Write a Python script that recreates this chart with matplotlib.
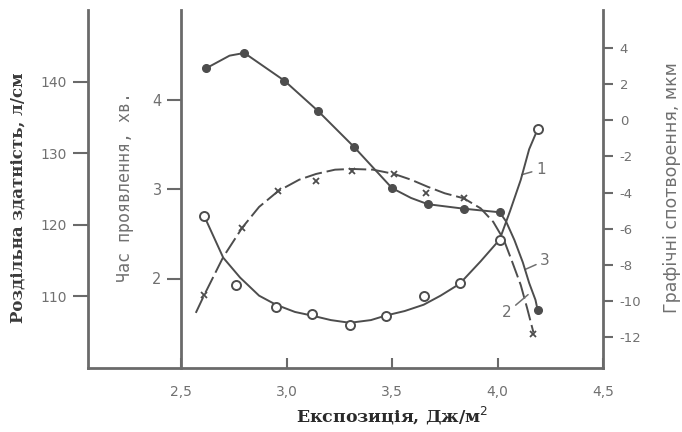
import matplotlib.pyplot as plt

# curve 3 - development time (filled circles), min
time_x = [2.62, 2.80, 2.99, 3.15, 3.32, 3.50, 3.67, 3.84, 4.01, 4.19]
time_y = [4.35, 4.52, 4.21, 3.87, 3.47, 3.01, 2.83, 2.78, 2.74, 1.65]
time_line_x = [2.62, 2.73, 2.80, 2.99, 3.15, 3.32, 3.50, 3.59, 3.67, 3.84, 4.01,
               4.04, 4.08, 4.12, 4.15, 4.18, 4.19]
time_line_y = [4.35, 4.49, 4.52, 4.21, 3.87, 3.47, 3.01, 2.90, 2.83, 2.78, 2.74,
               2.64, 2.43, 2.18, 1.95, 1.76, 1.65]

# curve 2 - resolution (x markers), lines/cm
res_x = [2.61, 2.79, 2.96, 3.14, 3.31, 3.51, 3.66, 3.84, 4.17]
res_y = [110.2, 119.6, 124.7, 126.1, 127.5, 127.1, 124.4, 123.7, 104.7]
res_line_x = [2.57, 2.61, 2.70, 2.79, 2.87, 2.96, 3.06, 3.14, 3.23, 3.31, 3.41,
              3.51, 3.59, 3.67, 3.75, 3.84, 3.92, 3.98, 4.03, 4.07, 4.11, 4.14, 4.17]
res_line_y = [107.7, 110.2, 115.5, 119.6, 122.5, 124.7, 126.3, 127.1, 127.7, 127.8,
              127.7, 127.1, 126.3, 125.3, 124.4, 123.7, 122.3, 120.4, 117.9, 114.8,
              111.6, 108.4, 105.0]

# curve 1 - graphic distortion (open circles), um
dist_x = [2.61, 2.76, 2.95, 3.12, 3.30, 3.47, 3.65, 3.82, 4.01, 4.19]
dist_y = [-5.3, -9.1, -10.3, -10.7, -11.3, -10.8, -9.7, -9.0, -6.6, -0.5]
dist_line_x = [2.61, 2.70, 2.78, 2.87, 2.95, 3.04, 3.12, 3.21, 3.30, 3.40, 3.47,
               3.56, 3.65, 3.73, 3.82, 3.92, 4.01, 4.06, 4.11, 4.15, 4.19]
dist_line_y = [-5.3, -7.6, -8.7, -9.7, -10.2, -10.6, -10.8, -11.05, -11.2, -11.05,
               -10.8, -10.55, -10.2, -9.7, -9.05, -7.8, -6.6, -5.0, -3.3, -1.6, -0.5]

x_ticks = [2.5, 3.0, 3.5, 4.0, 4.5]
x_labels = ["2,5", "3,0", "3,5", "4,0", "4,5"]
res_ticks = [110, 120, 130, 140]
time_ticks = [2, 3, 4]
dist_ticks = [4, 2, 0, -2, -4, -6, -8, -10, -12]

LINE = "#4d4d4d"
AX = "#6a6a6a"
TXT = "#707070"

fig = plt.figure(figsize=(6.82, 4.32), dpi=100)
W, H = 682, 432
ax = fig.add_axes([88 / W, (H - 368) / H, (603 - 88) / W, (368 - 10) / H])
ax.set_xlim(2.059, 4.5)
ax.set_ylim(100, 150)

ax_t = ax.twinx()
ax_t.set_ylim(1, 5)
ax_d = ax.twinx()
ax_d.set_ylim(-13.7, 6.1)

for a in (ax, ax_t, ax_d):
    a.patch.set_visible(False)
    for s in a.spines.values():
        s.set_visible(False)
        s.set_color(AX)
        s.set_linewidth(2.0)

# outer left axis + bottom
ax.spines["left"].set_visible(True)
ax.spines["bottom"].set_visible(True)
ax.set_xticks(x_ticks)
ax.set_xticklabels(x_labels)
ax.tick_params(axis="x", direction="in", length=7, width=1.5, color=AX,
               pad=12, labelsize=10, labelcolor=TXT)
ax.set_yticks(res_ticks)
ax.tick_params(axis="y", direction="out", length=11, width=1.5, color=AX,
               pad=4, labelsize=10, labelcolor=TXT)

# inner axis at x = 2.5
ax_t.spines["left"].set_visible(True)
ax_t.spines["left"].set_position(("data", 2.5))
ax_t.yaxis.set_ticks_position("left")
ax_t.set_yticks(time_ticks)
ax_t.tick_params(axis="y", direction="out", length=10, width=1.5, color=AX,
                 pad=4, labelsize=10.5, labelcolor=TXT)

# right axis
ax_d.spines["right"].set_visible(True)
ax_d.set_yticks(dist_ticks)
ax_d.set_yticklabels([str(t) for t in dist_ticks])
ax_d.tick_params(axis="y", direction="out", length=7, width=1.5, color=AX,
                 pad=5, labelsize=9.5, labelcolor=TXT)

# curves
ax_t.plot(time_line_x, time_line_y, color=LINE, lw=1.4)
ax_t.plot(time_x, time_y, "o", color=LINE, ms=5.5)

ax.plot(res_line_x, res_line_y, color=LINE, lw=1.4, linestyle=(0, (9, 2.5)))
ax.plot(res_x, res_y, "x", color=LINE, ms=5, mew=1.3)

ax_d.plot(dist_line_x, dist_line_y, color=LINE, lw=1.4)
ax_d.plot(dist_x, dist_y, "o", mfc="white", mec=LINE, ms=6.5, mew=1.4)

# curve numbers with short leaders
for num, xy, txt in [("1", (4.115, 0.54), (4.205, 0.555)),
                     ("3", (4.13, 0.275), (4.225, 0.30)),
                     ("2", (4.145, 0.205), (4.045, 0.155))]:
    ax.annotate(num, xy=xy, xycoords=("data", "axes fraction"), xytext=txt,
                textcoords=("data", "axes fraction"), fontsize=11, color=TXT,
                va="center", ha="center",
                arrowprops=dict(arrowstyle="-", color=TXT, lw=1.1,
                                shrinkA=1, shrinkB=0))

# axis titles
fig.text(18 / W, 1 - 198 / H, "Роздільна здатність, л/см", rotation=90,
         ha="center", va="center", fontsize=12, fontweight="bold",
         family="DejaVu Serif", color="#3a3a3a")
fig.text(125 / W, 1 - 187 / H, "Час проявлення, хв.", rotation=90,
         ha="center", va="center", fontsize=12, family="DejaVu Sans Mono",
         color=TXT)
fig.text(672 / W, 1 - 188 / H, "Графічні спотворення, мкм", rotation=90,
         ha="center", va="center", fontsize=12.5, color=TXT)
fig.text(392 / W, 1 - 416 / H, "Експозиція, Дж/м$^2$", ha="center",
         va="center", fontsize=12.5, fontweight="bold", family="DejaVu Serif",
         color="#2a2a2a")

fig.savefig("out.png", dpi=100)
